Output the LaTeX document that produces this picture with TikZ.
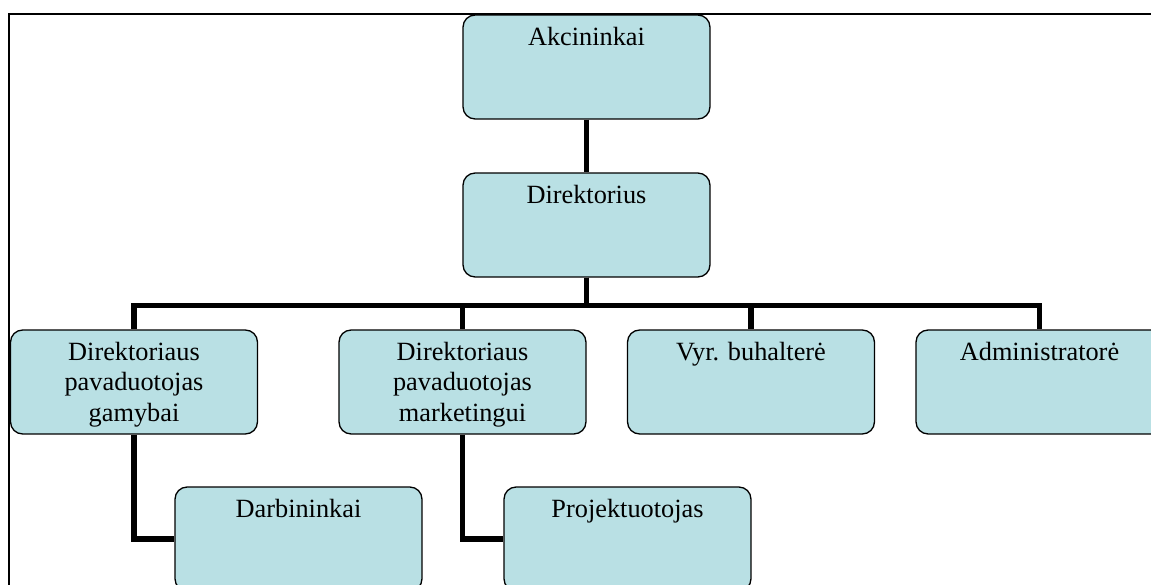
\documentclass[tikz,border=0pt]{standalone}
\usepackage{fontspec}
\setmainfont{Liberation Serif}
\definecolor{boxfill}{RGB}{185,224,228}
\begin{document}
\begin{tikzpicture}[x=0.456pt,y=-0.456pt,
  unit/.style={rectangle, rounded corners=5.5pt, draw, line width=0.6pt, fill=boxfill,
    minimum width=112.6pt, minimum height=47.4pt, inner sep=0pt},
  title/.style={anchor=north, align=center, inner sep=0pt, yshift=-5.5pt,
    font=\fontsize{12}{14}\selectfont},
  link/.style={line width=2.3pt}]
\clip (0,0) rectangle (1151,585);
\draw [line width=0.9pt] (9,600) -- (9,14) -- (1160,14);
\node [unit, label={[title]north:Akcininkai}] (akc) at (586.5,67) {};
\node [unit, label={[title]north:Direktorius}] (dir) at (586.5,225) {};
\node [unit, label={[title]north:Direktoriaus\\pavaduotojas\\gamybai}] (gam) at (134,382) {};
\node [unit, label={[title]north:Direktoriaus\\pavaduotojas\\marketingui}] (mar) at (462.5,382) {};
\node [unit, label={[title]north:Vyr. buhalterė}] (buh) at (751,382) {};
\node [unit, label={[title]north:Administratorė}] (adm) at (1039.5,382) {};
\node [unit, label={[title]north:Darbininkai}] (darb) at (298.5,539) {};
\node [unit, label={[title]north:Projektuotojas}] (proj) at (627.5,539) {};
\draw [link] (akc) -- (dir);
\foreach \n in {gam,mar,buh,adm}
  \draw [link] (dir.south) -- ++(0,28) -| (\n.north);
\draw [link] (gam.south) |- (darb.west);
\draw [link] (mar.south) |- (proj.west);
\end{tikzpicture}
\end{document}
